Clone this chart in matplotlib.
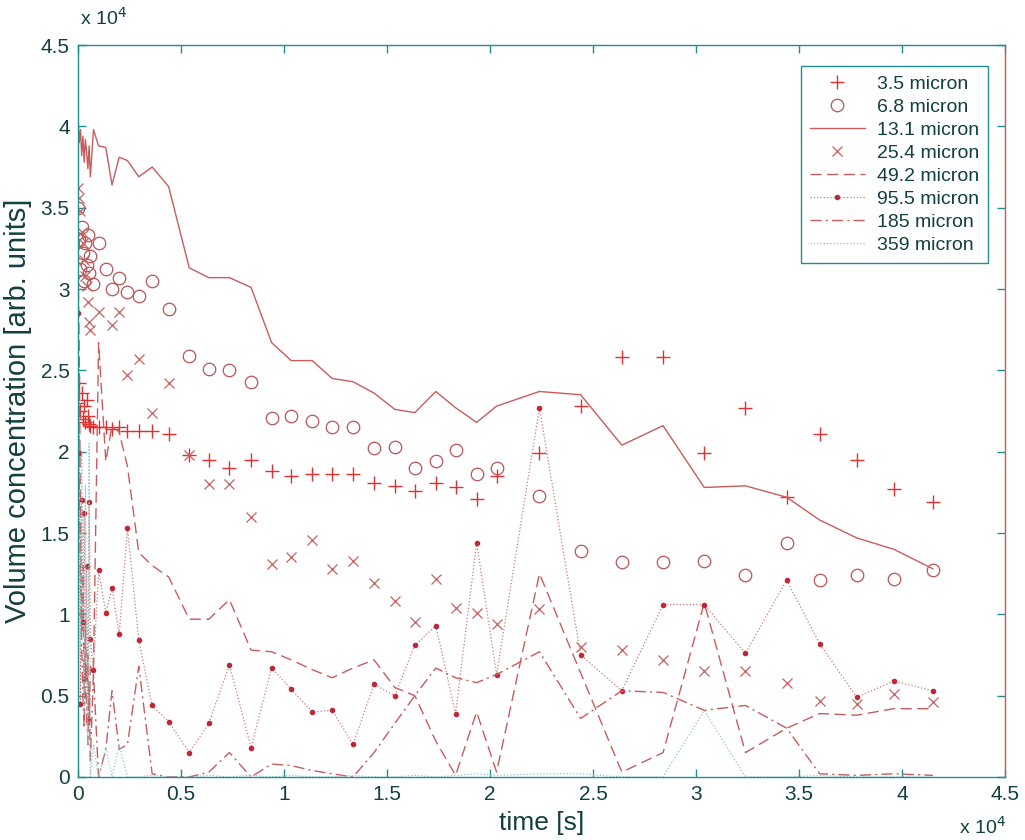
import numpy as np
import matplotlib
matplotlib.use("Agg")
import matplotlib.pyplot as plt
from matplotlib.ticker import FuncFormatter, MultipleLocator

plt.rcParams['font.family'] = ['Liberation Sans', 'DejaVu Sans']

# Sample times (read in units of 1e4 s)
time_e4 = [0.000, 0.006, 0.012, 0.018, 0.024, 0.030, 0.036, 0.042, 0.048, 0.054, 0.060,
           0.075, 0.100, 0.135, 0.165, 0.200, 0.240, 0.295, 0.360, 0.440,
           0.540, 0.635, 0.735, 0.840, 0.940, 1.035, 1.137, 1.234, 1.335, 1.437,
           1.538, 1.635, 1.737, 1.833, 1.935, 2.032,
           2.240, 2.440, 2.640, 2.840, 3.040, 3.240, 3.440, 3.600, 3.780, 3.960, 4.150]

# Volume concentration per size class (units of 1e4)
v_3_5 = [2.30, 2.42, 2.25, 2.36, 2.20, 2.28, 2.18, 2.32, 2.22, 2.17, 2.16,
         2.15, 2.15, 2.15, 2.14, 2.15, 2.13, 2.13, 2.13, 2.11,
         1.98, 1.95, 1.90, 1.95, 1.88, 1.85, 1.86, 1.86, 1.86, 1.81,
         1.79, 1.76, 1.81, 1.78, 1.71, 1.85,
         1.99, 2.28, 2.58, 2.58, 1.99, 2.27, 1.72, 2.11, 1.95, 1.77, 1.69]
v_6_8 = [3.50, 3.30, 3.12, 3.38, 3.22, 3.05, 3.28, 3.15, 3.33, 3.10, 3.20,
         3.03, 3.28, 3.12, 3.00, 3.07, 2.98, 2.96, 3.05, 2.88,
         2.59, 2.51, 2.50, 2.43, 2.21, 2.22, 2.19, 2.15, 2.15, 2.02,
         2.03, 1.90, 1.94, 2.01, 1.86, 1.90,
         1.73, 1.39, 1.32, 1.32, 1.33, 1.24, 1.44, 1.21, 1.24, 1.22, 1.27]
v_13_1 = [4.07, 3.90, 3.98, 3.82, 3.94, 3.78, 3.92, 3.84, 3.74, 3.88, 3.69,
          3.98, 3.88, 3.87, 3.64, 3.81, 3.79, 3.69, 3.75, 3.63,
          3.13, 3.07, 3.07, 3.01, 2.67, 2.56, 2.56, 2.45, 2.43, 2.36,
          2.26, 2.24, 2.37, 2.27, 2.18, 2.28,
          2.37, 2.35, 2.04, 2.16, 1.78, 1.79, 1.72, 1.58, 1.47, 1.40, 1.28]
v_25_4 = [3.62, 3.56, 3.48, 3.35, 3.28, 3.18, 3.08, 3.02, 2.92, 2.80, 2.75,
          np.nan, 2.86, np.nan, 2.78, 2.86, 2.47, 2.57, 2.24, 2.42,
          1.98, 1.80, 1.80, 1.60, 1.31, 1.35, 1.46, 1.28, 1.33, 1.19,
          1.08, 0.95, 1.22, 1.04, 1.01, 0.94,
          1.03, 0.80, 0.78, 0.72, 0.65, 0.65, 0.58, 0.47, 0.45, 0.51, 0.46]
v_49_2 = [3.20, 2.60, 1.60, 0.90, 1.30, 0.50, 0.95, 0.60, 0.75, 0.30, 0.68,
          0.65, 2.67, 1.94, 2.16, 2.12, 1.91, 1.38, 1.30, 1.23,
          0.97, 0.97, 1.09, 0.78, 0.77, 0.72, 0.66, 0.61, 0.67, 0.72,
          0.55, 0.50, 0.22, 0.01, 0.40, 0.03,
          1.25, 0.64, 0.03, 0.15, 1.07, 0.15, 0.30, 0.39, 0.38, 0.42, 0.42]
v_95_5 = [2.85, 1.99, 0.45, 1.70, 0.95, 1.62, 0.60, 1.30, 0.35, 1.69, 0.85,
          0.66, 1.27, 1.01, 1.16, 0.88, 1.53, 0.84, 0.44, 0.34,
          0.15, 0.33, 0.69, 0.18, 0.67, 0.54, 0.40, 0.41, 0.20, 0.57,
          0.50, 0.81, 0.93, 0.39, 1.44, 0.63,
          2.27, 0.75, 0.53, 1.06, 1.06, 0.76, 1.21, 0.82, 0.49, 0.59, 0.53]
v_185 = [2.50, 1.80, 1.20, 0.80, 0.50, 0.30, 0.70, 0.40, 0.20, 0.55, 0.10,
         0.64, 0.00, 0.17, 0.53, 0.17, 0.20, 0.68, 0.02, 0.00,
         0.00, 0.03, 0.15, 0.00, 0.08, 0.07, 0.04, 0.02, 0.00, 0.15,
         0.33, 0.50, 0.67, 0.61, 0.58, 0.63,
         0.77, 0.36, 0.53, 0.52, 0.41, 0.44, 0.30, 0.02, 0.01, 0.02, 0.01]
v_359 = [2.30, 1.50, 0.80, 2.00, 1.00, 0.40, 1.80, 0.60, 0.20, 2.05, 0.00,
         0.20, 0.00, 0.18, 0.00, 0.20, 0.00, 0.00, 0.01, 0.00,
         0.00, 0.01, 0.00, 0.01, 0.00, 0.01, 0.00, 0.00, 0.01, 0.00,
         0.00, 0.01, 0.00, 0.01, 0.02, 0.01,
         0.02, 0.02, 0.00, 0.00, 0.41, 0.00, 0.00, 0.01, 0.00, 0.00, 0.00]

t = np.array(time_e4) * 1e4
scale = 1e4

teal = '#1f8f8f'
txt = '#123f3f'
line_red = '#c85c5c'

fig = plt.figure(figsize=(10.25, 8.4), dpi=100)
ax = fig.add_axes([0.0761, 0.075, 0.9044, 0.8714])

ax.plot(t, np.array(v_3_5) * scale, linestyle='none', marker='+', ms=10, mew=1.0,
        color='#e03030', label='3.5 micron')
ax.plot(t, np.array(v_6_8) * scale, linestyle='none', marker='o', ms=9, mew=0.9,
        mfc='none', mec='#b85555', label='6.8 micron')
ax.plot(t, np.array(v_13_1) * scale, '-', lw=1.0, color=line_red, label='13.1 micron')
ax.plot(t, np.array(v_25_4) * scale, linestyle='none', marker='x', ms=7, mew=0.9,
        color='#c46060', label='25.4 micron')
ax.plot(t, np.array(v_49_2) * scale, lw=1.0, color=line_red, dashes=(8, 4),
        label='49.2 micron')
ax.plot(t, np.array(v_95_5) * scale, ':', lw=0.9, color='#d07a7a', marker='o', ms=3,
        mfc='#c02838', mec='#c02838', label='95.5 micron')
ax.plot(t, np.array(v_185) * scale, lw=1.0, color=line_red, dashes=(8, 3, 1.5, 3),
        label='185 micron')
ax.plot(t, np.array(v_359) * scale, ':', lw=0.9, color='#8ec4c8', label='359 micron')

ax.set_xlim(0, 4.5e4)
ax.set_ylim(0, 4.5e4)
ax.xaxis.set_major_locator(MultipleLocator(0.5e4))
ax.yaxis.set_major_locator(MultipleLocator(0.5e4))
fmt = FuncFormatter(lambda v, p: f'{v / 1e4:g}')
ax.xaxis.set_major_formatter(fmt)
ax.yaxis.set_major_formatter(fmt)

ax.tick_params(direction='in', length=6, width=1.0, color=teal, labelcolor=txt,
               labelsize=15, top=True, right=True, pad=6)
for side in ['left', 'top', 'bottom']:
    ax.spines[side].set_color(teal)
    ax.spines[side].set_linewidth(1.0)
ax.spines['right'].set_color('#e05050')
ax.spines['right'].set_linewidth(1.0)

ax.set_xlabel('time [s]', fontsize=19, color=txt, labelpad=5)
ax.set_ylabel('Volume concentration [arb. units]', fontsize=21, color=txt, labelpad=6)

# MATLAB-style exponent labels
fig.text(0.078, 0.966, r'x 10$^4$', fontsize=14, color=txt, ha='left', va='bottom')
fig.text(0.981, 0.003, r'x 10$^4$', fontsize=14, color=txt, ha='right', va='bottom')

leg = ax.legend(loc='upper right', bbox_to_anchor=(0.982, 0.971), borderaxespad=0,
                fontsize=14, handlelength=2.8, handletextpad=0.65, labelspacing=0.28,
                borderpad=0.45, fancybox=False, framealpha=1, edgecolor=teal)
leg.get_frame().set_linewidth(1.0)
for text in leg.get_texts():
    text.set_color(txt)

fig.savefig('out.png', dpi=100)
